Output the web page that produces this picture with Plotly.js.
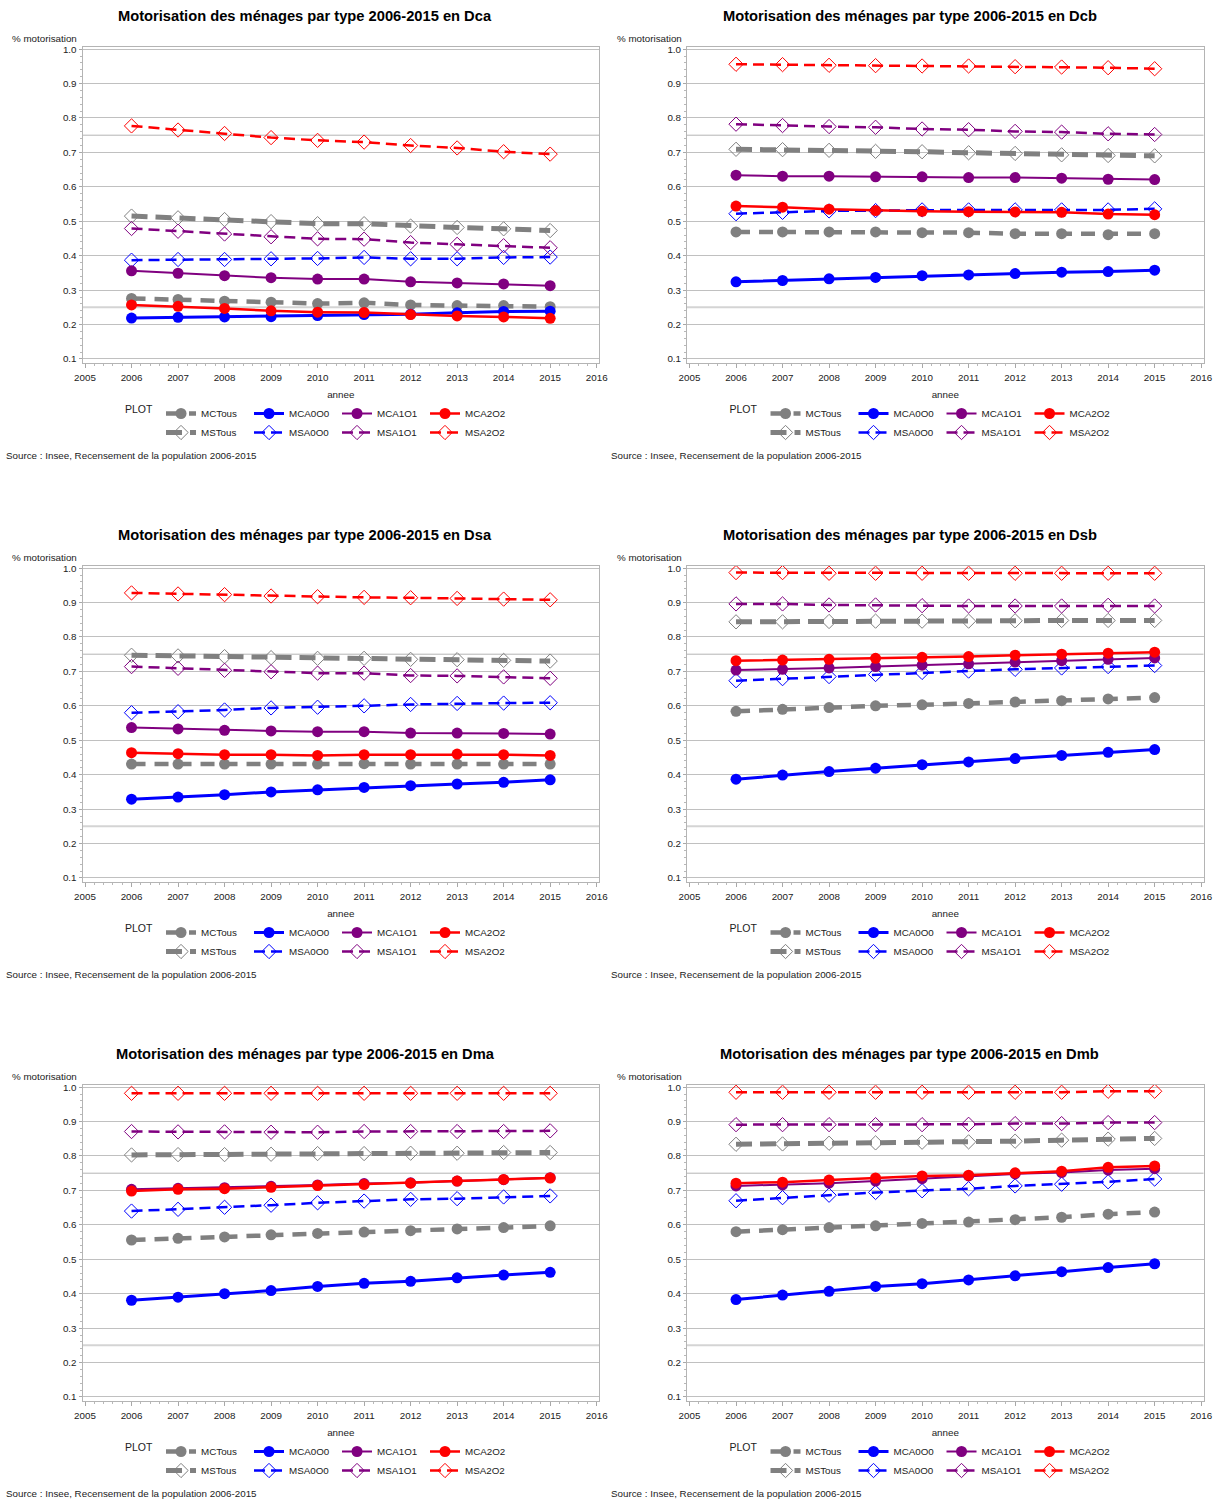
<!DOCTYPE html>
<html>
<head>
<meta charset="utf-8">
<script src="https://cdn.plot.ly/plotly-3.0.1.min.js"></script>
<style>
  html, body { margin: 0; padding: 0; background: #ffffff; }
  #chart { width: 1221px; height: 1501px; }
</style>
</head>
<body>
<div id="chart"></div>
<script>
// ---------------- DATA ----------------
const YEARS = [2006, 2007, 2008, 2009, 2010, 2011, 2012, 2013, 2014, 2015];
const REGIONS = ['Dca', 'Dcb', 'Dsa', 'Dsb', 'Dma', 'Dmb'];
const SERIES = ['MCTous', 'MSTous', 'MCA0O0', 'MSA0O0', 'MCA1O1', 'MSA1O1', 'MCA2O2', 'MSA2O2'];

// one row per region, in REGIONS order
const MCTous = [
  [0.276, 0.273, 0.268, 0.265, 0.261, 0.263, 0.257, 0.255, 0.255, 0.252],
  [0.469, 0.469, 0.469, 0.469, 0.467, 0.467, 0.464, 0.464, 0.461, 0.464],
  [0.431, 0.431, 0.431, 0.431, 0.431, 0.432, 0.431, 0.431, 0.431, 0.431],
  [0.584, 0.590, 0.595, 0.600, 0.603, 0.607, 0.611, 0.615, 0.620, 0.624],
  [0.556, 0.561, 0.565, 0.571, 0.575, 0.579, 0.583, 0.588, 0.592, 0.597],
  [0.580, 0.586, 0.592, 0.597, 0.604, 0.608, 0.615, 0.622, 0.631, 0.637]
];
const MSTous = [
  [0.515, 0.510, 0.505, 0.499, 0.493, 0.493, 0.486, 0.482, 0.478, 0.473],
  [0.709, 0.708, 0.706, 0.703, 0.702, 0.699, 0.697, 0.693, 0.691, 0.690],
  [0.747, 0.745, 0.743, 0.740, 0.738, 0.738, 0.735, 0.734, 0.732, 0.730],
  [0.844, 0.844, 0.845, 0.846, 0.846, 0.846, 0.847, 0.848, 0.848, 0.848],
  [0.803, 0.804, 0.804, 0.805, 0.807, 0.807, 0.808, 0.808, 0.810, 0.810],
  [0.834, 0.835, 0.837, 0.838, 0.840, 0.841, 0.843, 0.846, 0.849, 0.851]
];
const MCA0O0 = [
  [0.219, 0.221, 0.222, 0.223, 0.226, 0.229, 0.230, 0.234, 0.238, 0.239],
  [0.324, 0.328, 0.333, 0.337, 0.342, 0.344, 0.348, 0.352, 0.354, 0.358],
  [0.329, 0.335, 0.342, 0.350, 0.356, 0.363, 0.368, 0.373, 0.378, 0.385],
  [0.387, 0.399, 0.409, 0.419, 0.429, 0.437, 0.447, 0.456, 0.465, 0.473],
  [0.381, 0.390, 0.400, 0.409, 0.421, 0.430, 0.436, 0.446, 0.454, 0.462],
  [0.383, 0.396, 0.407, 0.421, 0.429, 0.440, 0.452, 0.464, 0.476, 0.487]
];
const MSA0O0 = [
  [0.387, 0.389, 0.389, 0.391, 0.392, 0.395, 0.391, 0.391, 0.395, 0.396],
  [0.522, 0.526, 0.530, 0.531, 0.533, 0.533, 0.533, 0.533, 0.533, 0.536],
  [0.580, 0.583, 0.588, 0.594, 0.596, 0.600, 0.604, 0.607, 0.608, 0.609],
  [0.673, 0.679, 0.685, 0.691, 0.697, 0.701, 0.706, 0.710, 0.714, 0.717],
  [0.640, 0.645, 0.651, 0.657, 0.664, 0.669, 0.674, 0.676, 0.681, 0.684],
  [0.670, 0.679, 0.686, 0.694, 0.699, 0.705, 0.713, 0.718, 0.725, 0.733]
];
const MCA1O1 = [
  [0.356, 0.349, 0.342, 0.336, 0.332, 0.332, 0.324, 0.321, 0.318, 0.313],
  [0.634, 0.631, 0.631, 0.629, 0.629, 0.627, 0.627, 0.625, 0.622, 0.621],
  [0.537, 0.533, 0.529, 0.527, 0.525, 0.525, 0.521, 0.521, 0.520, 0.518],
  [0.704, 0.706, 0.710, 0.714, 0.718, 0.722, 0.727, 0.731, 0.735, 0.739],
  [0.703, 0.706, 0.708, 0.712, 0.716, 0.720, 0.722, 0.727, 0.731, 0.737],
  [0.713, 0.716, 0.721, 0.727, 0.734, 0.742, 0.748, 0.752, 0.759, 0.763]
];
const MSA1O1 = [
  [0.479, 0.471, 0.463, 0.455, 0.449, 0.448, 0.438, 0.433, 0.429, 0.423],
  [0.782, 0.778, 0.775, 0.773, 0.768, 0.766, 0.761, 0.759, 0.754, 0.752],
  [0.714, 0.709, 0.703, 0.699, 0.695, 0.695, 0.688, 0.687, 0.684, 0.680],
  [0.896, 0.896, 0.893, 0.893, 0.891, 0.890, 0.890, 0.890, 0.892, 0.890],
  [0.871, 0.870, 0.870, 0.869, 0.869, 0.871, 0.871, 0.871, 0.871, 0.873],
  [0.891, 0.891, 0.891, 0.891, 0.891, 0.892, 0.894, 0.894, 0.897, 0.897]
];
const MCA2O2 = [
  [0.257, 0.253, 0.247, 0.240, 0.236, 0.235, 0.229, 0.225, 0.222, 0.218],
  [0.544, 0.541, 0.535, 0.531, 0.529, 0.528, 0.527, 0.526, 0.521, 0.519],
  [0.464, 0.461, 0.458, 0.458, 0.456, 0.458, 0.458, 0.460, 0.458, 0.456],
  [0.731, 0.733, 0.735, 0.738, 0.741, 0.743, 0.747, 0.750, 0.753, 0.756],
  [0.698, 0.703, 0.705, 0.709, 0.714, 0.717, 0.721, 0.727, 0.732, 0.736],
  [0.721, 0.724, 0.730, 0.736, 0.742, 0.744, 0.751, 0.756, 0.767, 0.771]
];
const MSA2O2 = [
  [0.777, 0.765, 0.755, 0.743, 0.735, 0.730, 0.720, 0.713, 0.702, 0.695],
  [0.956, 0.955, 0.953, 0.952, 0.951, 0.951, 0.949, 0.948, 0.946, 0.943],
  [0.928, 0.925, 0.923, 0.919, 0.917, 0.915, 0.914, 0.912, 0.910, 0.908],
  [0.987, 0.987, 0.985, 0.985, 0.985, 0.985, 0.985, 0.985, 0.985, 0.985],
  [0.982, 0.982, 0.982, 0.982, 0.982, 0.982, 0.982, 0.982, 0.982, 0.982],
  [0.985, 0.985, 0.985, 0.985, 0.985, 0.985, 0.985, 0.985, 0.988, 0.988]
];

const TITLE_PREFIX = 'Motorisation des ménages par type 2006-2015 en ';
const Y_LABEL = '% motorisation';
const X_LABEL = 'annee';
const SOURCE = 'Source : Insee, Recensement de la population 2006-2015';
const LEGEND_TITLE = 'PLOT';
const REF_LINES = [0.25, 0.75];

// ---------------- STYLES ----------------
const VALUES = { MCTous, MSTous, MCA0O0, MSA0O0, MCA1O1, MSA1O1, MCA2O2, MSA2O2 };
const GREY = '#808080', BLUE = '#0000ff', PURPLE = '#800080', RED = '#ff0000';
const STYLE = {
  MCTous: { color: GREY,   width: 4.5, dash: '14px,9px',  symbol: 'circle',       group: 'g0' },
  MSTous: { color: GREY,   width: 5,   dash: '16px,8px',  symbol: 'diamond-open', group: 'g0' },
  MCA0O0: { color: BLUE,   width: 3,   dash: 'solid',     symbol: 'circle',       group: 'g1' },
  MSA0O0: { color: BLUE,   width: 2.5, dash: '11px,6px',  symbol: 'diamond-open', group: 'g1' },
  MCA1O1: { color: PURPLE, width: 2,   dash: 'solid',     symbol: 'circle',       group: 'g2' },
  MSA1O1: { color: PURPLE, width: 2.5, dash: '11px,6px',  symbol: 'diamond-open', group: 'g2' },
  MCA2O2: { color: RED,    width: 2.5, dash: 'solid',     symbol: 'circle',       group: 'g3' },
  MSA2O2: { color: RED,    width: 2.5, dash: '11px,6px',  symbol: 'diamond-open', group: 'g3' }
};

const FONT = 'Liberation Sans, Arial, Helvetica, sans-serif';
const SMALL = 9.8;
const W = 1221, H = 1501;
const COL_DX = 604.5, ROW_DY = 519;
const PX = (p) => p / W;
const PY = (p) => 1 - p / H;

const traces = [];
const layout = {
  width: W, height: H,
  margin: { l: 0, r: 0, t: 0, b: 0, autoexpand: false },
  paper_bgcolor: '#ffffff', plot_bgcolor: '#ffffff',
  font: { family: FONT, size: SMALL, color: '#222' },
  showlegend: true,
  annotations: [], shapes: []
};

REGIONS.forEach((reg, i) => {
  const col = i % 2, row = Math.floor(i / 2);
  const ox = col * COL_DX, oy = row * ROW_DY;
  const n = i + 1;
  const xk = n === 1 ? 'xaxis' : 'xaxis' + n;
  const yk = n === 1 ? 'yaxis' : 'yaxis' + n;
  const xr = n === 1 ? 'x' : 'x' + n;
  const yr = n === 1 ? 'y' : 'y' + n;
  const lk = n === 1 ? 'legend' : 'legend' + n;

  layout[xk] = {
    domain: [PX(82.5 + ox), PX(599 + ox)], anchor: yr,
    range: [2004.946, 2016.05], tickmode: 'linear', tick0: 2005, dtick: 1,
    ticks: 'outside', ticklen: 4, tickcolor: '#a8a8a8', tickwidth: 1,
    ticklabelstandoff: 2,
    minor: { dtick: 0.2, tick0: 2005, ticks: 'outside', ticklen: 2, tickcolor: '#b8b8b8', showgrid: false },
    showgrid: false, zeroline: false, showline: true, mirror: true,
    linecolor: '#b4b4b4', linewidth: 1,
    tickfont: { size: SMALL, color: '#222', family: FONT },
    title: { text: X_LABEL, font: { size: SMALL, color: '#222', family: FONT }, standoff: 8 },
    fixedrange: true
  };
  layout[yk] = {
    domain: [PY(362.5 + oy), PY(46.5 + oy)], anchor: xr,
    range: [0.0898, 1.0076], tickmode: 'linear', tick0: 0.1, dtick: 0.1, tickformat: '.1f',
    ticks: 'outside', ticklen: 3, tickcolor: '#a8a8a8',
    minor: { dtick: 0.02, ticks: 'outside', ticklen: 2, tickcolor: '#b8b8b8', showgrid: false },
    showgrid: true, gridcolor: '#c0c0c0', gridwidth: 1,
    zeroline: false, showline: true, mirror: true, linecolor: '#b4b4b4', linewidth: 1,
    tickfont: { size: SMALL, color: '#222', family: FONT },
    fixedrange: true
  };

  layout[lk] = {
    x: PX(123 + ox), xanchor: 'left', y: PY(399 + oy), yanchor: 'top',
    orientation: 'h', traceorder: 'grouped', itemwidth: 30, entrywidth: 43,
    title: { text: LEGEND_TITLE, side: 'left', font: { size: 10.5, color: '#222', family: FONT } },
    font: { size: SMALL, color: '#222', family: FONT },
    bgcolor: 'rgba(0,0,0,0)', borderwidth: 0, itemclick: false, itemdoubleclick: false
  };

  SERIES.forEach((s) => {
    const st = STYLE[s];
    traces.push({
      type: 'scatter', mode: 'lines+markers',
      x: YEARS, y: VALUES[s][i],
      xaxis: xr, yaxis: yr, name: s,
      legend: lk, legendgroup: st.group + '_' + i,
      line: { color: st.color, width: st.width, dash: st.dash },
      marker: st.symbol === 'circle'
        ? { symbol: 'circle', size: 11, color: st.color, line: { width: 0 } }
        : { symbol: 'diamond-open', size: 11, color: st.color, line: { width: 1, color: st.color } },
      hoverinfo: 'x+y+name'
    });
  });

  REF_LINES.forEach((v, k) => {
    layout.shapes.push({
      type: 'line', layer: 'below',
      xref: xr + ' domain', x0: 0, x1: 1, yref: yr, y0: v, y1: v,
      line: { color: k === 0 ? '#d4d4d4' : '#b4b4b4', width: k === 0 ? 2 : 1 }
    });
  });

  layout.annotations.push({
    xref: 'paper', yref: 'paper', x: PX(305 + ox), y: PY(16 + oy),
    xanchor: 'center', yanchor: 'middle', showarrow: false,
    text: '<b>' + TITLE_PREFIX + reg + '</b>',
    font: { size: 14.7, color: '#000', family: FONT }
  });
  layout.annotations.push({
    xref: 'paper', yref: 'paper', x: PX(10 + ox), y: PY(38 + oy),
    xanchor: 'left', yanchor: 'middle', showarrow: false,
    text: Y_LABEL, font: { size: SMALL, color: '#222', family: FONT }
  });
  layout.annotations.push({
    xref: 'paper', yref: 'paper', x: PX(4 + ox), y: PY(455 + oy),
    xanchor: 'left', yanchor: 'middle', showarrow: false,
    text: SOURCE, font: { size: SMALL, color: '#222', family: FONT }
  });
});

Plotly.newPlot('chart', traces, layout, { staticPlot: true, displayModeBar: false });
</script>
</body>
</html>
